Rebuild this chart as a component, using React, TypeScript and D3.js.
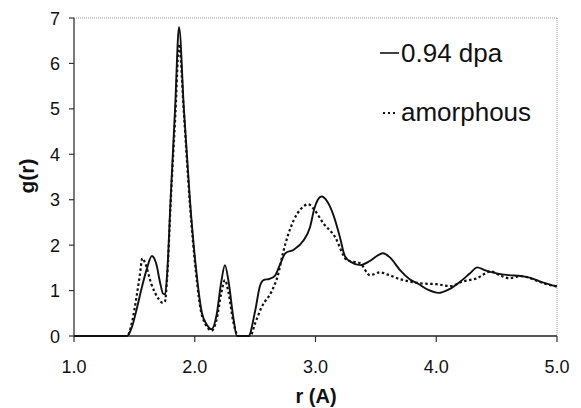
import React from 'react';
import * as d3 from 'd3';

// 0.94 dpa curve (r, g)
const dpaR = [1.0, 1.44, 1.48, 1.52, 1.56, 1.6, 1.645, 1.68, 1.715, 1.738, 1.755, 1.772, 1.8, 1.837, 1.87, 1.91, 1.96, 2.01, 2.06, 2.1, 2.14, 2.18, 2.22, 2.25, 2.28, 2.32, 2.35, 2.445, 2.5, 2.54, 2.57, 2.62, 2.665, 2.71, 2.75, 2.82, 2.9, 2.955, 2.99, 3.05, 3.1, 3.15, 3.2, 3.245, 3.3, 3.37, 3.45, 3.52, 3.56, 3.62, 3.7, 3.78, 3.85, 3.93, 4.02, 4.1, 4.2, 4.28, 4.34, 4.4, 4.5, 4.6, 4.7, 4.78, 4.88, 5.0];
const dpaG = [0, 0, 0.2, 0.6, 1.05, 1.45, 1.76, 1.6, 1.15, 0.93, 0.92, 1.4, 3.0, 5.0, 6.8, 5.0, 3.0, 1.5, 0.5, 0.25, 0.15, 0.45, 1.2, 1.56, 1.2, 0.4, 0, 0, 0.55, 1.1, 1.23, 1.26, 1.33, 1.6, 1.82, 1.9, 2.1, 2.4, 2.8, 3.07, 2.95, 2.65, 2.2, 1.75, 1.62, 1.56, 1.65, 1.78, 1.82, 1.72, 1.45, 1.25, 1.15, 1.02, 0.95, 1.02, 1.2, 1.38, 1.51, 1.45, 1.38, 1.34, 1.32, 1.28, 1.18, 1.09];

// amorphous curve (r, g)
const amoR = [1.0, 1.44, 1.48, 1.52, 1.545, 1.566, 1.59, 1.64, 1.7, 1.735, 1.752, 1.772, 1.8, 1.84, 1.87, 1.91, 1.96, 2.01, 2.06, 2.14, 2.18, 2.22, 2.25, 2.28, 2.32, 2.36, 2.46, 2.5, 2.555, 2.64, 2.69, 2.73, 2.82, 2.88, 2.94, 2.99, 3.065, 3.16, 3.26, 3.37, 3.45, 3.535, 3.6, 3.7, 3.78, 3.87, 4.0, 4.12, 4.22, 4.336, 4.45, 4.54, 4.61, 4.7, 4.8, 4.9, 5.0];
const amoG = [0, 0, 0.3, 0.9, 1.34, 1.71, 1.6, 1.15, 0.82, 0.73, 0.75, 1.3, 2.9, 4.9, 6.43, 4.9, 2.9, 1.4, 0.45, 0.12, 0.35, 0.95, 1.23, 0.95, 0.3, 0, 0, 0.28, 0.64, 1.0, 1.35, 1.82, 2.55, 2.8, 2.9, 2.78, 2.48, 2.19, 1.67, 1.6, 1.34, 1.4, 1.35, 1.25, 1.2, 1.16, 1.14, 1.1, 1.2, 1.27, 1.42, 1.32, 1.27, 1.32, 1.25, 1.15, 1.09];

const xTicks = [1, 2, 3, 4, 5];
const yTicks = [0, 1, 2, 3, 4, 5, 6, 7];

const FONT = 'Liberation Sans, Arial, sans-serif';

export default function App() {
  const width = 581;
  const height = 408;
  const x = d3.scaleLinear().domain([1, 5]).range([74, 557]);
  const y = d3.scaleLinear().domain([0, 7]).range([336, 18]);

  const line = d3.line<[number, number]>()
    .x(d => x(d[0]))
    .y(d => y(d[1]))
    .curve(d3.curveMonotoneX);

  const dpa = dpaR.map((r, i) => [r, dpaG[i]] as [number, number]);
  const amo = amoR.map((r, i) => [r, amoG[i]] as [number, number]);

  return (
    <svg width={width} height={height} style={{ position: 'absolute', left: 0, top: 0, background: '#fff' }}>
      {/* frame */}
      <line x1={x(1)} x2={x(5)} y1={y(7)} y2={y(7)} stroke="#999" strokeWidth={1} strokeDasharray="1,1" />
      <line x1={x(5)} x2={x(5)} y1={y(7)} y2={y(0)} stroke="#999" strokeWidth={1} strokeDasharray="1,1" />
      <line x1={x(1)} x2={x(1)} y1={y(7)} y2={y(0)} stroke="#333" strokeWidth={1.3} />
      <line x1={x(1)} x2={x(5)} y1={y(0)} y2={y(0)} stroke="#222" strokeWidth={1.5} />

      {yTicks.map(t => (
        <g key={'y' + t}>
          <line x1={x(1) - 5} x2={x(1)} y1={y(t)} y2={y(t)} stroke="#333" strokeWidth={1.2} />
          <text x={60} y={y(t) + 6.5} textAnchor="end" fontFamily={FONT} fontSize={18} fill="#111">{t}</text>
        </g>
      ))}
      {xTicks.map(t => (
        <g key={'x' + t}>
          <line x1={x(t)} x2={x(t)} y1={y(0)} y2={y(0) + 6} stroke="#333" strokeWidth={1.2} />
          <text x={x(t)} y={373} textAnchor="middle" fontFamily={FONT} fontSize={18} fill="#111">{t.toFixed(1)}</text>
        </g>
      ))}

      <text x={316} y={403} textAnchor="middle" fontFamily={FONT} fontSize={20} fontWeight="bold" fill="#111">r  (A)</text>
      <text transform="translate(34,176) rotate(-90)" textAnchor="middle" fontFamily={FONT} fontSize={21} fontWeight="bold" fill="#111">g(r)</text>

      <path d={line(amo) || ''} fill="none" stroke="#111" strokeWidth={2.2} strokeDasharray="2.5,2.5" />
      <path d={line(dpa) || ''} fill="none" stroke="#111" strokeWidth={1.9} />

      {/* legend */}
      <line x1={380} x2={399} y1={53} y2={53} stroke="#111" strokeWidth={1.6} />
      <text x={401} y={62} fontFamily={FONT} fontSize={26} fill="#111">0.94 dpa</text>
      <line x1={383} x2={398} y1={113} y2={113} stroke="#111" strokeWidth={1.8} strokeDasharray="2,3" />
      <text x={401} y={121} fontFamily={FONT} fontSize={26} fill="#111">amorphous</text>
    </svg>
  );
}
